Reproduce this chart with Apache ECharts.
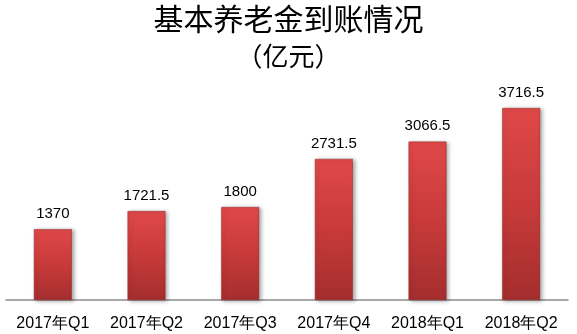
<!DOCTYPE html>
<html><head><meta charset="utf-8">
<script src="https://cdn.jsdelivr.net/npm/echarts@6/dist/echarts.min.js"></script>
<style>html,body{margin:0;padding:0;background:#fff;}#c{width:577px;height:334px;}</style>
</head><body><div id="c"></div>
<script>
const categories = ['2017年Q1','2017年Q2','2017年Q3','2017年Q4','2018年Q1','2018年Q2'];
const values = [1370, 1721.5, 1800, 2731.5, 3066.5, 3716.5];
const titleLines = ['基本养老金到账情况', '（亿元）'];

const chart = echarts.init(document.getElementById('c'));
chart.setOption({
  animation: false,
  backgroundColor: '#fff',
  title: [
    {text: titleLines[0], left: 'center', top: -1, textStyle: {fontFamily: 'Noto Sans CJK SC', fontSize: 30, fontWeight: 'normal', color: '#000'}},
    {text: titleLines[1], left: 'center', top: 38, textStyle: {fontFamily: 'Noto Sans CJK SC', fontSize: 26, fontWeight: 'normal', color: '#000'}}
  ],
  grid: {left: 6, right: 9, top: 93.4, bottom: 34},
  xAxis: {
    type: 'category', data: categories,
    axisLine: {lineStyle: {color: '#8c8c8c', width: 1.5}},
    axisTick: {show: false},
    axisLabel: {interval: 0, hideOverlap: false, color: '#000', fontSize: 16, fontFamily: 'Liberation Sans', margin: 16}
  },
  yAxis: {type: 'value', min: 0, max: 4000, show: false, splitLine: {show: false}},
  series: [{
    type: 'bar', data: values, barWidth: '40.5%',
    itemStyle: {
      color: new echarts.graphic.LinearGradient(0, 0, 0, 1, [
        {offset: 0, color: '#e04848'},
        {offset: 0.5, color: '#c83a3a'},
        {offset: 1, color: '#a52e2e'}
      ]),
      borderColor: '#9a2828', borderWidth: 0.5,
      shadowColor: 'rgba(0,0,0,0.35)', shadowBlur: 4, shadowOffsetX: 2, shadowOffsetY: 1
    },
    label: {show: true, position: 'top', distance: 8, color: '#000', fontSize: 15, fontFamily: 'Liberation Sans'}
  }]
});
</script></body></html>
